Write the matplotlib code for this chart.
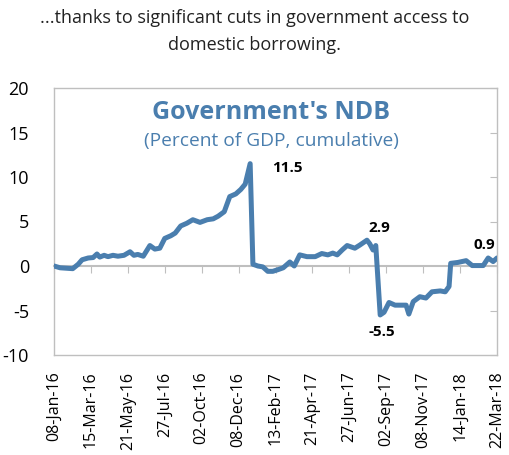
import matplotlib
matplotlib.use("Agg")
import matplotlib.pyplot as plt
import pandas as pd

# ---- data ----
dates = ["2016-01-08", "2016-01-19", "2016-02-11", "2016-02-21", "2016-02-28", "2016-03-10",
         "2016-03-19", "2016-03-26", "2016-03-31", "2016-04-08", "2016-04-15", "2016-04-24",
         "2016-05-03", "2016-05-14", "2016-05-25", "2016-06-01", "2016-06-08", "2016-06-18",
         "2016-06-30", "2016-07-09", "2016-07-18", "2016-07-27", "2016-08-07", "2016-08-15",
         "2016-08-25", "2016-09-05", "2016-09-16", "2016-09-29", "2016-10-12", "2016-10-23",
         "2016-11-01", "2016-11-12", "2016-11-22", "2016-12-03", "2016-12-12", "2016-12-20",
         "2016-12-29", "2017-01-03", "2017-01-12", "2017-01-21", "2017-01-30", "2017-02-08",
         "2017-02-18", "2017-02-27", "2017-03-11", "2017-03-19", "2017-03-29", "2017-04-11",
         "2017-04-26", "2017-05-08", "2017-05-19", "2017-05-28", "2017-06-05", "2017-06-14",
         "2017-06-23", "2017-07-07", "2017-07-16", "2017-07-29", "2017-08-03", "2017-08-09",
         "2017-08-14", "2017-08-22", "2017-08-29", "2017-09-07", "2017-09-18", "2017-09-29",
         "2017-10-08", "2017-10-13", "2017-10-21", "2017-11-02", "2017-11-13", "2017-11-24",
         "2017-12-09", "2017-12-18", "2017-12-25", "2017-12-28", "2018-01-10", "2018-01-25",
         "2018-02-05", "2018-02-25", "2018-03-06", "2018-03-15", "2018-03-22"]
ndb = [0.0, -0.2, -0.3, 0.2, 0.7, 0.9,
       0.95, 1.35, 1.0, 1.2, 1.05, 1.2,
       1.1, 1.2, 1.6, 1.2, 1.3, 1.1,
       2.3, 1.9, 2.0, 3.1, 3.4, 3.7,
       4.5, 4.8, 5.2, 4.9, 5.2, 5.3,
       5.6, 6.1, 7.8, 8.1, 8.6, 9.2,
       11.5, 0.2, 0.0, -0.1, -0.6, -0.6,
       -0.4, -0.2, 0.45, 0.0, 1.25, 1.05,
       1.05, 1.4, 1.25, 1.45, 1.25, 1.8,
       2.3, 2.0, 2.35, 2.9, 2.5, 1.8,
       2.3, -5.5, -5.2, -4.1, -4.4, -4.4,
       -4.4, -5.4, -4.0, -3.45, -3.6, -2.9,
       -2.8, -2.9, -2.3, 0.3, 0.4, 0.6,
       0.05, 0.05, 0.9, 0.5, 0.9]
tick_dates = ["2016-01-08", "2016-03-15", "2016-05-21", "2016-07-27", "2016-10-02", "2016-12-08",
              "2017-02-13", "2017-04-21", "2017-06-27", "2017-09-02", "2017-11-08", "2018-01-14",
              "2018-03-22"]
tick_labels = ["08-Jan-16", "15-Mar-16", "21-May-16", "27-Jul-16", "02-Oct-16", "08-Dec-16",
               "13-Feb-17", "21-Apr-17", "27-Jun-17", "02-Sep-17", "08-Nov-17", "14-Jan-18",
               "22-Mar-18"]
yticks = [-10, -5, 0, 5, 10, 15, 20]
annotations = [("2016-12-29", 11.5, "11.5"), ("2017-07-29", 2.9, "2.9"),
               ("2017-08-22", -5.5, "-5.5"), ("2018-03-06", 0.9, "0.9")]

x = pd.to_datetime(dates)
tx = pd.to_datetime(tick_dates)

plt.rcParams['font.family'] = ['Open Sans', 'DejaVu Sans']
fig = plt.figure(figsize=(5.09, 4.55), dpi=100)
ax = fig.add_axes([54/509, 1-355/455, (497-54)/509, (355-88)/455])

blue = '#4A7EAE'
grey = '#BFBFBF'
ax.plot(x, ndb, color=blue, lw=3.6, solid_joinstyle='round', solid_capstyle='round', zorder=3)

ax.set_xlim(tx[0], tx[-1])
ax.set_ylim(-10, 20)
ax.set_yticks(yticks)
ax.set_yticklabels([str(v) for v in yticks], fontsize=13)
ax.tick_params(axis='y', left=False, right=True, labelleft=True, direction='in',
               length=5, color=grey, pad=18)
ax.set_xticks(tx)
ax.set_xticklabels(tick_labels, rotation=90, fontsize=11.5)
ax.tick_params(axis='x', length=0, pad=12)
for s in ax.spines.values():
    s.set_color(grey)
    s.set_linewidth(1.0)

# zero axis with downward ticks
sec = ax.secondary_xaxis(1/3)
sec.set_xticks(tx)
sec.tick_params(axis='x', direction='out', length=5, color=grey, labelbottom=False, labeltop=False,
                top=False, bottom=True)
sec.spines['bottom'].set_color(grey)
sec.spines['bottom'].set_linewidth(1.5)
for k in ['top', 'left', 'right']:
    sec.spines[k].set_visible(False)

# annotations
offsets = {"11.5": (27, -3), "2.9": (9, 9), "-5.5": (1, -12), "0.9": (-3, 9)}
for d, v, t in annotations:
    dx, dy = offsets[t]
    ax.annotate(t, (pd.Timestamp(d), v), xytext=(dx, dy), textcoords='offset points',
                ha='center', va='center', fontsize=11, fontweight='bold', color='black')

ax.text(0.49, 0.91, "Government's NDB", transform=ax.transAxes, ha='center', va='center',
        fontsize=18, fontweight='bold', color=blue)
ax.text(0.49, 0.8, "(Percent of GDP, cumulative)", transform=ax.transAxes, ha='center', va='center',
        fontsize=13.8, color=blue)

fig.text(0.5, 1-18/455, "...thanks to significant cuts in government access to", ha='center',
         va='center', fontsize=13, color='#222222')
fig.text(0.5, 1-45/455, "domestic borrowing.", ha='center', va='center', fontsize=13, color='#222222')

fig.savefig("out.png", dpi=100)
